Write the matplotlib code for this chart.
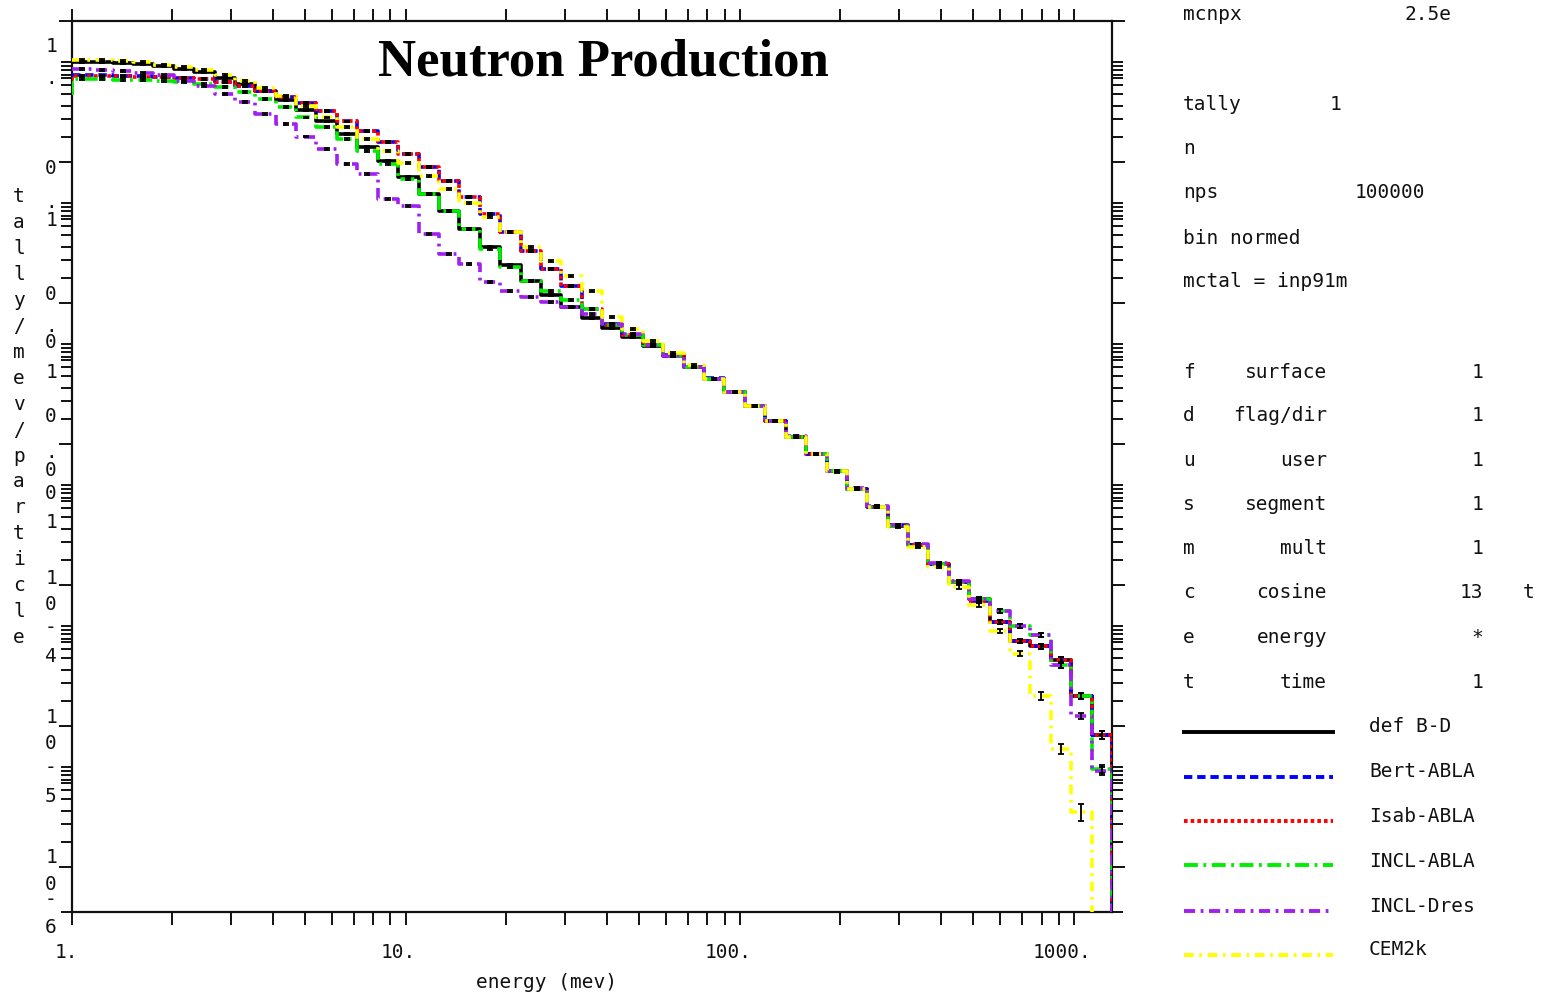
import matplotlib
matplotlib.use('Agg')
import matplotlib.pyplot as plt
from matplotlib.lines import Line2D
from matplotlib.ticker import FixedLocator, NullFormatter
import numpy as np

W, H = 1547, 995

# energy bin edges (MeV), 51 log bins from 1 to 1300
edges = [1.0, 1.151, 1.325, 1.525, 1.755, 2.020, 2.325, 2.676, 3.080, 3.544,
         4.080, 4.695, 5.404, 6.220, 7.159, 8.240, 9.484, 10.92, 12.56, 14.46,
         16.64, 19.16, 22.05, 25.37, 29.21, 33.61, 38.69, 44.53, 51.25, 58.99,
         67.89, 78.14, 89.94, 103.5, 119.1, 137.1, 157.8, 181.7, 209.1, 240.6,
         277.0, 318.8, 366.9, 422.3, 486.1, 559.4, 643.9, 741.1, 853.0, 981.7,
         1130.0, 1300.0]

def_bd = [0.509, 0.509, 0.501, 0.493, 0.478, 0.454, 0.433, 0.392, 0.356, 0.317,
          0.274, 0.233, 0.194, 0.157, 0.127, 0.101, 0.0778, 0.0590, 0.0447, 0.0333,
          0.0248, 0.0185, 0.01426, 0.01135, 0.00933, 0.00778, 0.00662, 0.00571, 0.00493, 0.00419,
          0.00350, 0.00288, 0.00233, 0.00185, 0.00145, 0.001115, 8.45e-4, 6.40e-4, 4.77e-4, 3.56e-4,
          2.61e-4, 1.91e-4, 1.40e-4, 1.045e-4, 7.92e-5, 5.44e-5, 3.99e-5, 3.67e-5, 2.92e-5, 1.63e-5,
          8.59e-6]

bert_abla = [0.411, 0.411, 0.405, 0.405, 0.399, 0.392, 0.386, 0.367, 0.344, 0.317,
             0.288, 0.261, 0.229, 0.194, 0.165, 0.138, 0.1135, 0.0917, 0.0729, 0.0562,
             0.0426, 0.0317, 0.0233, 0.01734, 0.01312, 0.0090, 0.0071, 0.0059, 0.0050, 0.00425,
             0.00352, 0.00290, 0.00234, 0.00186, 0.00146, 0.00112, 8.5e-4, 6.45e-4, 4.80e-4, 3.58e-4,
             2.63e-4, 1.92e-4, 1.41e-4, 1.05e-4, 7.66e-5, 5.44e-5, 3.99e-5, 3.67e-5, 2.92e-5, 1.63e-5,
             8.59e-6]

isab_abla = [0.405, 0.405, 0.405, 0.399, 0.399, 0.392, 0.386, 0.367, 0.344, 0.317,
             0.288, 0.261, 0.229, 0.194, 0.165, 0.138, 0.1135, 0.0917, 0.0729, 0.0562,
             0.0426, 0.0317, 0.0233, 0.01734, 0.01312, 0.0090, 0.0070, 0.0059, 0.0050, 0.00425,
             0.00350, 0.00288, 0.00233, 0.00185, 0.00145, 0.001115, 8.45e-4, 6.40e-4, 4.77e-4, 3.56e-4,
             2.61e-4, 1.91e-4, 1.40e-4, 1.045e-4, 7.66e-5, 5.44e-5, 3.99e-5, 3.67e-5, 2.92e-5, 1.63e-5,
             8.59e-6]

incl_abla = [0.386, 0.386, 0.380, 0.380, 0.373, 0.367, 0.356, 0.339, 0.312, 0.278,
             0.244, 0.207, 0.176, 0.145, 0.119, 0.0963, 0.0754, 0.0590, 0.0447, 0.0333,
             0.0240, 0.0179, 0.01426, 0.01210, 0.01045, 0.00902, 0.0070, 0.0059, 0.0050, 0.0042,
             0.00348, 0.00286, 0.00232, 0.00184, 0.00144, 0.00111, 8.4e-4, 6.35e-4, 4.75e-4, 3.55e-4,
             2.60e-4, 1.90e-4, 1.40e-4, 1.04e-4, 7.92e-5, 6.52e-5, 5.09e-5, 4.40e-5, 2.69e-5, 1.63e-5,
             4.93e-6]

incl_dres = [0.454, 0.447, 0.440, 0.426, 0.412, 0.373, 0.344, 0.302, 0.265, 0.218,
             0.185, 0.150, 0.123, 0.0963, 0.0818, 0.0544, 0.0485, 0.0307, 0.0221, 0.0188,
             0.01403, 0.01210, 0.01096, 0.01011, 0.00933, 0.00832, 0.0071, 0.0060, 0.0050, 0.0042,
             0.00350, 0.00289, 0.00234, 0.00186, 0.00146, 0.00113, 8.5e-4, 6.45e-4, 4.82e-4, 3.60e-4,
             2.64e-4, 1.93e-4, 1.42e-4, 1.06e-4, 7.92e-5, 6.52e-5, 5.09e-5, 4.40e-5, 2.69e-5, 1.17e-5,
             4.77e-6]

cem2k = [0.526, 0.526, 0.518, 0.509, 0.485, 0.470, 0.447, 0.412, 0.373, 0.333,
         0.292, 0.248, 0.207, 0.176, 0.145, 0.119, 0.0979, 0.0792, 0.0640, 0.0509,
         0.0405, 0.0317, 0.0248, 0.0198, 0.01546, 0.01210, 0.00792, 0.00651, 0.00535, 0.00440,
         0.00361, 0.00288, 0.00233, 0.00185, 0.00145, 0.001115, 8.45e-4, 6.40e-4, 4.77e-4, 3.56e-4,
         2.57e-4, 1.85e-4, 1.335e-4, 9.63e-5, 7.18e-5, 4.70e-5, 3.23e-5, 1.63e-5, 6.84e-6, 2.44e-6,
         0.0]

# value of the first (below 1 MeV) bin where a step is visible at E = 1
start_vals = {'Isab-ABLA': 0.302, 'INCL-ABLA': 0.295}

# relative errors (fraction) per bin
rel_err = [0.01, 0.01, 0.01, 0.01, 0.01, 0.01, 0.01, 0.01, 0.01, 0.01,
           0.01, 0.01, 0.01, 0.01, 0.01, 0.012, 0.012, 0.012, 0.012, 0.012,
           0.012, 0.012, 0.012, 0.012, 0.012, 0.012, 0.012, 0.012, 0.012, 0.012,
           0.014, 0.014, 0.014, 0.014, 0.015, 0.015, 0.016, 0.017, 0.018, 0.02,
           0.02, 0.022, 0.024, 0.026, 0.03, 0.03, 0.035, 0.04, 0.045, 0.05,
           0.06]
cem_rel_err = rel_err[:45] + [0.035, 0.04, 0.06, 0.08, 0.14, 0.0]

series = [
    ('def B-D', def_bd, '#000000', '-'),
    ('Bert-ABLA', bert_abla, '#0000ff', (0, (6, 3.5))),
    ('Isab-ABLA', isab_abla, '#ff0000', (0, (2.6, 2.2))),
    ('INCL-ABLA', incl_abla, '#00ee00', (0, (10, 4, 2, 4))),
    ('INCL-Dres', incl_dres, '#a020f0', (0, (8, 4, 2, 4))),
    ('CEM2k', cem2k, '#ffff00', (0, (7, 4, 2, 4))),
]

plt.rcParams['lines.scale_dashes'] = False
mono = 'DejaVu Sans Mono'

fig = plt.figure(figsize=(W / 100, H / 100), dpi=100)
fig.patch.set_facecolor('white')


def fx(px):
    return px / W


def fy(py):
    return 1 - py / H


ax = fig.add_axes([fx(71.7), fy(913), (1112 - 71.7) / W, (913 - 21.7) / H])
ax.set_xscale('log')
ax.set_yscale('log', nonpositive='clip')
ax.set_xlim(1.0, 1300.0)
ax.set_ylim(4.77e-7, 1.0)

edges_a = np.array(edges)
centers = np.sqrt(edges_a[:-1] * edges_a[1:])
for name, vals, color, ls in series:
    v = list(vals)
    xs = list(edges) + [edges[-1]]
    ys = v + [v[-1], 0.0]
    if name in start_vals:
        xs = [edges[0]] + xs
        ys = [start_vals[name]] + ys
    ax.step(xs, ys, where='post', color=color, lw=2.6, linestyle=ls, zorder=3)

for name, vals, color, ls in series:
    v = np.array(vals)
    err = np.array(cem_rel_err if name == 'CEM2k' else rel_err) * v
    ok = v > 0
    ax.errorbar(centers[ok], v[ok], yerr=err[ok], fmt='none', ecolor='black',
                elinewidth=1.3, capsize=2, capthick=1.3, zorder=5)

# axes and ticks in the MCNP plot style
for sp in ax.spines.values():
    sp.set_linewidth(1.6)
    sp.set_color('#111111')

ax.xaxis.set_major_locator(FixedLocator([1, 10, 100, 1000]))
ax.xaxis.set_minor_locator(FixedLocator([m * 10 ** k for k in range(0, 4)
                                         for m in range(2, 10) if m * 10 ** k < 1300]))
ymaj = [10.0 ** k for k in range(-6, 1)]
mant = [1.5, 2, 2.5, 3, 3.5, 3.9, 4.15, 4.45, 4.75, 5.1]
ymin = [m * 10.0 ** k for k in range(-6, 0) for m in mant] + [4.77e-7]
ax.yaxis.set_major_locator(FixedLocator(ymaj))
ax.yaxis.set_minor_locator(FixedLocator(ymin))
ax.xaxis.set_major_formatter(NullFormatter())
ax.xaxis.set_minor_formatter(NullFormatter())
ax.yaxis.set_major_formatter(NullFormatter())
ax.yaxis.set_minor_formatter(NullFormatter())
ax.tick_params(which='both', direction='out', top=True, right=True,
               width=1.4, color='#111111')
ax.tick_params(axis='x', which='both', length=9)
ax.tick_params(axis='y', which='major', length=9.5)
ax.tick_params(axis='y', which='minor', length=8)

txt = dict(family=mono, fontsize=14, color='#111111')

# x tick labels and axis title
for lab, px in [('1.', 66), ('10.', 398), ('100.', 728), ('1000.', 1062)]:
    fig.text(fx(px), fy(953), lab, ha='center', va='center', **txt)
fig.text(fx(547), fy(983), 'energy (mev)', ha='center', va='center', **txt)

# stacked y tick label characters as drawn by the plotter
ychars = [('1', 47), ('.', 79), ('0', 169), ('.', 203), ('1', 220), ('0', 295),
          ('.', 327), ('0', 343), ('1', 372), ('0', 417), ('.', 452), ('0', 470),
          ('0', 494), ('1', 522), ('1', 578), ('0', 604), ('-', 628), ('4', 656),
          ('1', 718), ('0', 744), ('-', 768), ('5', 796), ('1', 858), ('0', 884),
          ('-', 900), ('6', 928)]
for ch, py in ychars:
    fig.text(fx(51), fy(py), ch, ha='center', va='center', **txt)

ylab = 'tally/mev/particle'
for i, ch in enumerate(ylab):
    fig.text(fx(19), fy(197 + i * 25.9), ch, ha='center', va='center', **txt)

fig.text(fx(603), fy(62), 'Neutron Production', ha='center', va='center',
         family='Liberation Serif', fontweight='bold', fontsize=38, color='black')

# run information block
info = [
    ('mcnpx', 1183, 15, 'left'), ('2.5e', 1405, 15, 'left'),
    ('tally', 1183, 104, 'left'), ('1', 1330, 104, 'left'),
    ('n', 1183, 149, 'left'),
    ('nps', 1183, 192, 'left'), ('100000', 1355, 192, 'left'),
    ('bin normed', 1183, 238, 'left'),
    ('mctal = inp91m', 1183, 282, 'left'),
]
for s, px, py, ha in info:
    fig.text(fx(px), fy(py), s, ha=ha, va='center', **txt)

rows = [('f', 'surface', '1', 372), ('d', 'flag/dir', '1', 416),
        ('u', 'user', '1', 460), ('s', 'segment', '1', 505),
        ('m', 'mult', '1', 549), ('c', 'cosine', '13', 593),
        ('e', 'energy', '*', 638), ('t', 'time', '1', 683)]
for a, b, c, py in rows:
    fig.text(fx(1183), fy(py), a, ha='left', va='center', **txt)
    fig.text(fx(1327), fy(py), b, ha='right', va='center', **txt)
    fig.text(fx(1483), fy(py), c, ha='right', va='center', **txt)
fig.text(fx(1529), fy(593), 't', ha='center', va='center', **txt)

# legend samples
leg_y = [733, 778, 822, 866, 912, 956]
lab_y = [727, 772, 817, 862, 907, 950]
for (name, vals, color, ls), ly, ty in zip(series, leg_y, lab_y):
    fig.add_artist(Line2D([fx(1184), fx(1333)], [fy(ly), fy(ly)], color=color,
                          lw=2.8, linestyle=ls, transform=fig.transFigure))
    fig.text(fx(1369), fy(ty), name, ha='left', va='center', **txt)

fig.savefig('out.png', dpi=100)
